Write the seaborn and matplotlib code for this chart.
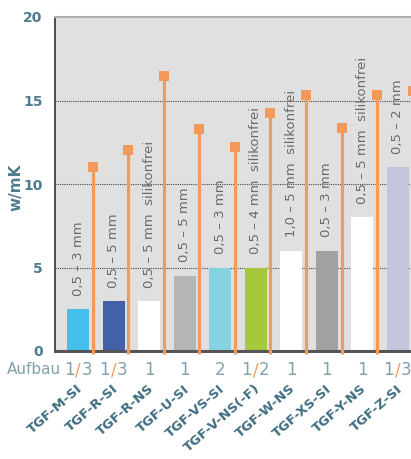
import numpy as np
import matplotlib
matplotlib.use("Agg")
import matplotlib.pyplot as plt
import seaborn as sns
from matplotlib.ticker import MultipleLocator
from matplotlib.transforms import blended_transform_factory

# data
names = ["TGF-M-SI", "TGF-R-SI", "TGF-R-NS", "TGF-U-SI", "TGF-VS-SI",
         "TGF-V-NS(-F)", "TGF-W-NS", "TGF-XS-SI", "TGF-Y-NS", "TGF-Z-SI"]
bar_vals = [2.5, 3.0, 3.0, 4.5, 5.0, 5.0, 6.0, 6.0, 8.0, 11.0]
orange_vals = [11.0, 12.05, 16.45, 13.3, 12.2, 14.25, 15.35, 13.35, 15.35, 15.55]
bar_text = ["0,5 – 3 mm", "0,5 – 5 mm", "0,5 – 5 mm  silikonfrei", "0,5 – 5 mm",
            "0,5 – 3 mm", "0,5 – 4 mm  silikonfrei", "1,0 – 5 mm  silikonfrei",
            "0,5 – 3 mm", "0,5 – 5 mm  silikonfrei", "0,5 – 2 mm"]
aufbau = ["1/3", "1/3", "1", "1", "2", "1/2", "1", "1", "1", "1/3"]
bar_colors = ["#45BFEA", "#4460A8", "#FFFFFF", "#B5B5B5", "#85D3E0",
              "#A5C83C", "#FFFFFF", "#A2A0A3", "#FFFFFF", "#C3C7DD"]

orange = "#F39A5A"
blue_txt = "#4E7D8F"
light_txt = "#84A0AB"

sns.set_style("white")
plt.rcParams['font.family'] = ['DejaVu Sans']

fig = plt.figure(figsize=(4.11, 4.59), dpi=100)
ax = fig.add_axes([55/411, 1-351/459, (420-55)/411, 334/459])
ax.set_facecolor("#E0E0E0")

sns.barplot(x=names, y=bar_vals, hue=names, palette=bar_colors, width=0.62,
            saturation=1, linewidth=0, legend=False, ax=ax, zorder=2)

pos = np.arange(len(names))
ax.vlines(pos + 0.42, -0.2, orange_vals, color=orange, lw=2.3, zorder=3, clip_on=False)
ax.scatter(pos + 0.42, orange_vals, marker="s", s=44, color=orange, zorder=4,
           linewidths=0, clip_on=False)

for i, (v, t) in enumerate(zip(bar_vals, bar_text)):
    ax.text(i, v + 0.8, t, rotation=90, ha="center", va="bottom",
            color="#6A6A6A", fontsize=9.5, zorder=5)

ax.set_xlim(-0.648, 9.63)
ax.set_ylim(0, 20)
ax.set_yticks([0, 5, 10, 15, 20])
ax.yaxis.set_minor_locator(MultipleLocator(1))
ax.set_xticks([])
ax.set_xlabel("")
ax.set_ylabel("")
ax.tick_params(axis="y", which="major", direction="out", length=7, width=1.2,
               color="#333333", labelsize=10, labelcolor=blue_txt, pad=2)
ax.tick_params(axis="y", which="minor", direction="in", length=4, width=1.0,
               color="#333333")
for lab in ax.get_yticklabels():
    lab.set_fontweight("bold")

ax.set_axisbelow(True)
ax.yaxis.grid(True, which="major", linestyle=(0, (1, 1)), color="#444444", lw=0.8)
ax.yaxis.get_gridlines()[-1].set_visible(False)

ax.spines["left"].set_color("#333333")
ax.spines["left"].set_linewidth(1.2)
ax.spines["bottom"].set_color("#555555")
ax.spines["bottom"].set_linewidth(2.2)
ax.spines["bottom"].set_zorder(2.5)
ax.spines["top"].set_color("#B0B0B0")
ax.spines["top"].set_linewidth(1.5)
ax.spines["right"].set_visible(False)

trans = blended_transform_factory(ax.transData, ax.transAxes)

# Aufbau row, slash in orange
for i, a in enumerate(aufbau):
    if "/" in a:
        left, right = a.split("/")
        ax.annotate("/", (i, -0.057), xycoords=trans, ha="center", va="center",
                    color=orange, fontsize=12, annotation_clip=False)
        ax.annotate(left, (i, -0.057), xycoords=trans, xytext=(-2.5, 0),
                    textcoords="offset points", ha="right", va="center",
                    color=light_txt, fontsize=12, annotation_clip=False)
        ax.annotate(right, (i, -0.057), xycoords=trans, xytext=(2.5, 0),
                    textcoords="offset points", ha="left", va="center",
                    color=light_txt, fontsize=12, annotation_clip=False)
    else:
        ax.text(i, -0.057, a, transform=trans, ha="center", va="center",
                color=light_txt, fontsize=12)

fig.text(7/411, 1-370/459, "Aufbau", ha="left", va="center", color=light_txt, fontsize=11)

# category labels
for i, n in enumerate(names):
    ax.text(i + 0.08, -0.108, n, transform=trans, rotation=41, rotation_mode="anchor",
            ha="right", va="center", color="#3E6D80", fontsize=9.5, fontweight="bold")

fig.text(16/411, 1-187/459, "w/mK", rotation=90, ha="center", va="center",
         color=blue_txt, fontsize=11, fontweight="bold")

fig.savefig("out.png", dpi=100)
